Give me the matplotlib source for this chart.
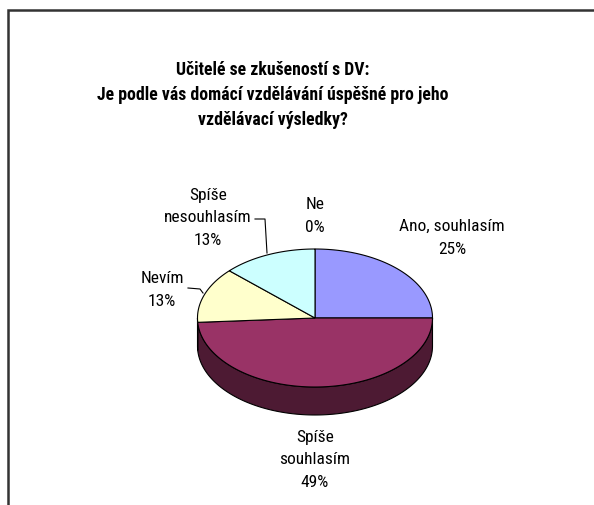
import numpy as np
import matplotlib
matplotlib.use('Agg')
import matplotlib.pyplot as plt
from matplotlib.patches import Polygon

plt.rcParams['font.family'] = ['Roboto Condensed', 'DejaVu Sans']

# survey answers
title = ('Učitelé se zkušeností s DV:\n'
         'Je podle vás domácí vzdělávání úspěšné pro jeho\n'
         'vzdělávací výsledky?')
labels = ['Ano, souhlasím', 'Spíše\nsouhlasím', 'Nevím', 'Spíše\nnesouhlasím', 'Ne']
percents = [25, 49, 13, 13, 0]
colors = ['#9999FF', '#993366', '#FFFFCC', '#CCFFFF', '#660066']

# label layout (pixels) and leader lines
label_xy = [(452, 238), (315, 460), (162, 290), (208, 218), (315, 216)]
leaders = {2: [(188, 288), (200, 289), (203, 293)],
           3: [(255, 219), (265, 219), (267, 253)]}

# pie geometry in pixels (y grows down)
cx, cy = 315, 318
rx, ry = 117.5, 69
depth = 28


def darker(c, f=0.5):
    r, g, b = matplotlib.colors.to_rgb(c)
    return (r * f, g * f, b * f)


def arc(t1, t2, dy=0, n=200):
    t = np.radians(np.linspace(t1, t2, n))
    return np.column_stack([cx + rx * np.cos(t), cy - ry * np.sin(t) + dy])


fig = plt.figure(figsize=(5.94, 5.05), dpi=100)
ax = fig.add_axes([0, 0, 1, 1])
ax.set_xlim(0, 594)
ax.set_ylim(505, 0)
ax.axis('off')

total = float(sum(percents))
bounds = [90 - 360 * c / total for c in np.concatenate([[0], np.cumsum(percents)])]

# side walls (only the front half is visible)
for i, col in enumerate(colors):
    t1, t2 = bounds[i], bounds[i + 1]
    for k in (-1, 0, 1):
        lo, hi = max(t2, k * 360 - 180), min(t1, k * 360)
        if hi - lo <= 0:
            continue
        top = arc(hi, lo)
        bot = arc(lo, hi, dy=depth)
        ax.add_patch(Polygon(np.vstack([top, bot]), closed=True,
                             facecolor=darker(col), edgecolor='black', lw=0.8))

# top faces
for i, col in enumerate(colors):
    t1, t2 = bounds[i], bounds[i + 1]
    if t1 - t2 <= 0:
        continue
    pts = np.vstack([[cx, cy], arc(t1, t2)])
    ax.add_patch(Polygon(pts, closed=True, facecolor=col,
                         edgecolor='black', lw=0.8))

for i, (lab, p) in enumerate(zip(labels, percents)):
    x, y = label_xy[i]
    ax.text(x, y, '%s\n%d%%' % (lab, p), ha='center', va='center',
            fontsize=12.5, linespacing=1.65)

for pts in leaders.values():
    xs, ys = zip(*pts)
    ax.plot(xs, ys, color='black', lw=0.8)

ax.text(273, 95, title, ha='center', va='center', fontsize=12.8,
        fontweight='bold', linespacing=1.5)

# chart frame
ax.plot([8, 8, 594], [505, 10, 10], color='#333333', lw=1.8,
        solid_joinstyle='miter')

fig.savefig('out.png', dpi=100)
